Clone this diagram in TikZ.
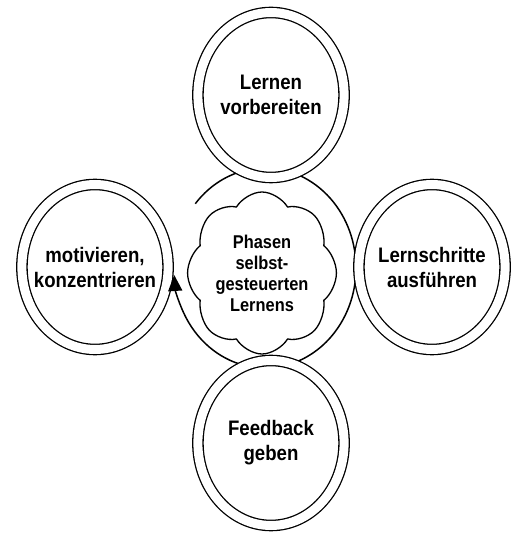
\documentclass[tikz,border=0pt]{standalone}
\usepackage{fontspec}
\setmainfont{Liberation Sans}
\usetikzlibrary{arrows.meta,shapes.symbols}

\begin{document}
\begin{tikzpicture}[x=1pt, y=1pt,
  ring/.style={circle, draw, fill=white, double, double distance=9pt,
    line width=1.3pt, minimum size=165pt, inner sep=0pt, xscale=0.886,
    align=center, font=\bfseries\fontsize{21}{25}\selectfont},
  puffs/.style={cloud, cloud puffs=8, cloud puff arc=110, cloud ignores aspect,
    draw, line width=1.3pt, fill=white, minimum width=168pt,
    minimum height=162pt, inner sep=0pt, xscale=0.886, align=center,
    font=\bfseries\fontsize{18.5}{21}\selectfont}]
  \useasboundingbox (0,0) rectangle (511,533);

  % cycle
  \coordinate (mid) at (265,265);
  \coordinate (cyclestart) at ([shift={(140:91pt and 100pt)}]mid);
  \coordinate (tipstart) at ([shift={(-150:91pt and 100pt)}]mid);
  \draw[line width=1.5pt]
    (cyclestart) arc[start angle=140, end angle=-150, x radius=91pt, y radius=100pt];

  % center
  \node[puffs] (phases) at (262,260) {Phasen\\selbst-\\gesteuerten\\Lernens};

  % phases around
  \node[ring] (prepare) at (271,438) {Lernen\\vorbereiten};
  \node[ring] (execute) at (432,266) {Lernschritte\\ausführen};
  \node[ring] (feedback) at (271,90) {Feedback\\geben};
  \node[ring] (motivate) at (95,266) {motivieren,\\konzentrieren};

  % arrow head on top
  \draw[line width=1.5pt, -{Triangle[length=16pt, width=14pt]}]
    (tipstart) arc[start angle=-150, end angle=-176, x radius=91pt, y radius=100pt];
\end{tikzpicture}
\end{document}
